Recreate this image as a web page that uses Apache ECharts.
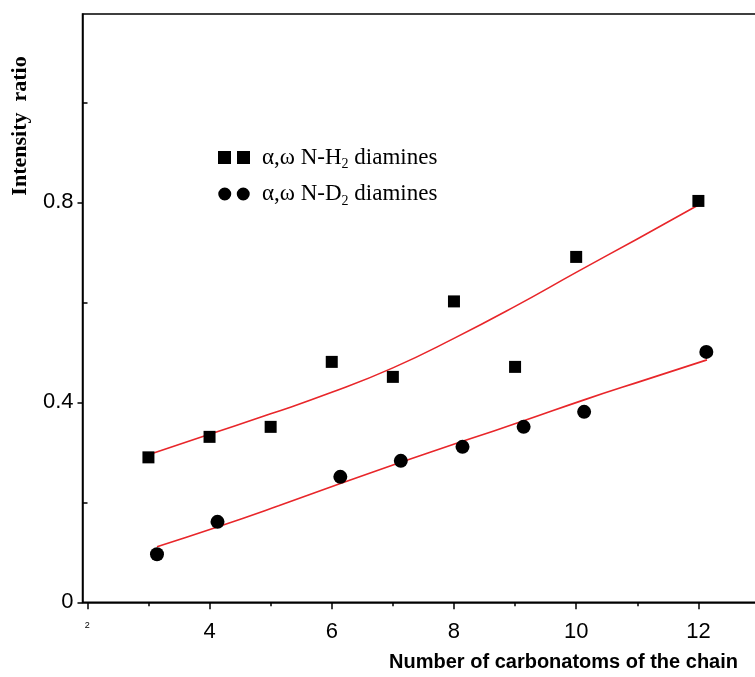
<!DOCTYPE html>
<html>
<head>
<meta charset="utf-8">
<script src="https://cdn.jsdelivr.net/npm/echarts@6/dist/echarts.min.js"></script>
<style>
    html, body { margin: 0; padding: 0; background: #fff; overflow: hidden; }
    #chart { width: 775px; height: 677px; }
</style>
</head>
<body>
<div id="chart"></div>
<script>
// measured points
const h2X = [3, 4, 5, 6, 7, 8, 9, 10, 12];
const h2Y = [0.29, 0.331, 0.351, 0.481, 0.451, 0.602, 0.471, 0.691, 0.803];
const d2X = [3.14, 4.13, 6.14, 7.13, 8.14, 9.14, 10.13, 12.13];
const d2Y = [0.096, 0.161, 0.251, 0.283, 0.311, 0.351, 0.381, 0.501];

// red fit curves
const h2FitX = [3, 4, 5, 6, 7, 8, 9, 10, 11, 12];
const h2FitY = [0.295, 0.336, 0.377, 0.42, 0.469, 0.528, 0.592, 0.66, 0.727, 0.795];
const d2FitX = [3.14, 4.14, 5.13, 6.13, 7.13, 8.14, 9.14, 10.13, 11.13, 12.14];
const d2FitY = [0.111, 0.151, 0.193, 0.237, 0.28, 0.322, 0.363, 0.405, 0.445, 0.485];

const xMajorTicks = [2, 4, 6, 8, 10, 12];
const xMinorTicks = [3, 5, 7, 9, 11, 13];
const yMajorTicks = [0, 0.4, 0.8];
const yMinorTicks = [0.2, 0.6, 1.0];

const xMin = 1.921, xMax = 13.09;
const yMin = 0, yMax = 1.177;

const pairs = (xs, ys) => xs.map((x, i) => [x, ys[i]]);

const chart = echarts.init(document.getElementById("chart"));

const sansFont = "'Liberation Sans', Arial, sans-serif";
const serifFont = "'Liberation Serif', 'Times New Roman', serif";

const option = {
    animation: false,
    grid: {
        left: 82.5,
        right: 10,
        top: 14,
        bottom: 74.7,
        show: true,
        borderColor: "#000",
        borderWidth: 1.5,
    },
    legend: {
        orient: "vertical",
        left: 218,
        top: 146,
        padding: 0,
        itemGap: 11,
        itemWidth: 32,
        itemHeight: 13,
        selectedMode: false,
        data: [
            { name: "H2", icon: "path://M0,0h13v13h-13z M19,0h13v13h-13z" },
            {
                name: "D2",
                icon: "path://M0,6.5a6.5,6.5 0 1,0 13,0a6.5,6.5 0 1,0 -13,0z M18.5,6.5a6.5,6.5 0 1,0 13,0a6.5,6.5 0 1,0 -13,0z",
            },
        ],
        formatter: (name) =>
            name === "H2"
                ? "{a|α,ω N-H}{s|2}{b| diamines}"
                : "{a|α,ω N-D}{s|2}{b| diamines}",
        textStyle: {
            rich: {
                a: { fontFamily: serifFont, fontSize: 23, color: "#000", lineHeight: 28, padding: [0, 0, 0, 7] },
                b: { fontFamily: serifFont, fontSize: 23, color: "#000", lineHeight: 28 },
                s: { fontFamily: serifFont, fontSize: 14, color: "#000", lineHeight: 28, verticalAlign: "bottom" },
            },
        },
    },
    xAxis: [
        {
            type: "value",
            min: xMin,
            max: xMax,
            position: "bottom",
            splitLine: { show: false },
            axisLine: { lineStyle: { color: "#000", width: 1.5 } },
            axisTick: {
                customValues: xMajorTicks,
                length: 7,
                lineStyle: { color: "#000", width: 1.5 },
            },
            axisLabel: {
                customValues: xMajorTicks,
                margin: 19,
                formatter: (v) => (v === 2 ? "{s|2}" : "{b|" + v + "}"),
                rich: {
                    s: { fontFamily: sansFont, fontSize: 9, color: "#000" },
                    b: { fontFamily: sansFont, fontSize: 22, color: "#000" },
                },
            },
        },
        {
            type: "value",
            min: xMin,
            max: xMax,
            position: "bottom",
            splitLine: { show: false },
            axisLine: { show: false },
            axisLabel: { show: false },
            axisTick: {
                customValues: xMinorTicks,
                length: 4,
                lineStyle: { color: "#000", width: 1.5 },
            },
        },
    ],
    yAxis: [
        {
            type: "value",
            min: yMin,
            max: yMax,
            position: "left",
            splitLine: { show: false },
            axisLine: { show: true, lineStyle: { color: "#000", width: 1.5 } },
            axisTick: {
                customValues: yMajorTicks,
                length: 5,
                lineStyle: { color: "#000", width: 1.5 },
            },
            axisLabel: {
                customValues: yMajorTicks,
                margin: 9,
                fontFamily: sansFont,
                fontSize: 22,
                color: "#000",
            },
        },
        {
            type: "value",
            min: yMin,
            max: yMax,
            position: "left",
            splitLine: { show: false },
            axisLine: { show: false },
            axisLabel: { show: false },
            axisTick: {
                customValues: yMinorTicks,
                inside: true,
                length: 5,
                lineStyle: { color: "#000", width: 1.5 },
            },
        },
    ],
    graphic: [
        {
            type: "text",
            x: 20,
            y: 126,
            rotation: Math.PI / 2,
            style: {
                text: "Intensity  ratio",
                font: "bold 22px " + serifFont,
                fill: "#000",
                align: "center",
                verticalAlign: "middle",
            },
        },
        {
            type: "text",
            x: 738,
            y: 662,
            style: {
                text: "Number of carbonatoms of the chain",
                font: "bold 20px " + sansFont,
                fill: "#000",
                align: "right",
                verticalAlign: "middle",
            },
        },
    ],
    series: [
        {
            name: "H2 fit",
            type: "line",
            data: pairs(h2FitX, h2FitY),
            smooth: true,
            showSymbol: false,
            lineStyle: { color: "#e8262a", width: 1.6 },
            z: 1,
        },
        {
            name: "D2 fit",
            type: "line",
            data: pairs(d2FitX, d2FitY),
            smooth: true,
            showSymbol: false,
            lineStyle: { color: "#e8262a", width: 1.6 },
            z: 1,
        },
        {
            name: "H2",
            type: "scatter",
            symbol: "rect",
            symbolSize: 12,
            data: pairs(h2X, h2Y),
            itemStyle: { color: "#000", opacity: 1 },
            z: 3,
        },
        {
            name: "D2",
            type: "scatter",
            symbol: "circle",
            symbolSize: 14,
            data: pairs(d2X, d2Y),
            itemStyle: { color: "#000", opacity: 1 },
            z: 3,
        },
    ],
};

chart.setOption(option);
window.addEventListener("resize", () => chart.resize());
</script>
</body>
</html>
